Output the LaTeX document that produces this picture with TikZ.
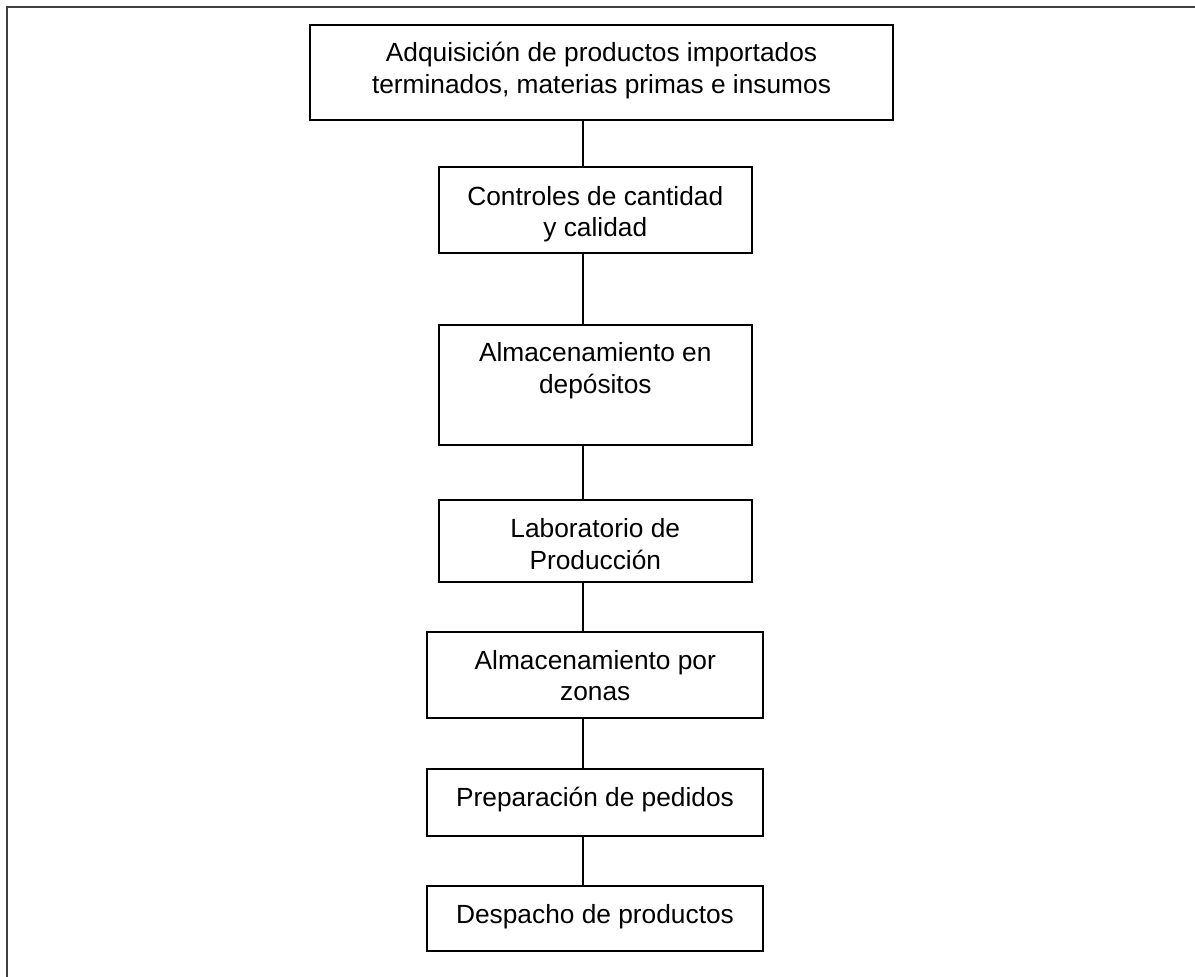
\documentclass[tikz,border=0pt]{standalone}
\usepackage{fontspec}
\setmainfont{Liberation Sans}
\begin{document}
\begin{tikzpicture}[x=1bp,y=-1bp,
  box/.style={draw=black,line width=2bp,inner sep=0pt,rectangle},
  txt/.style={anchor=north,inner sep=0pt,align=center,font=\fontsize{26.3bp}{31.6bp}\selectfont},
  link/.style={draw=black,line width=1.8bp}]
\useasboundingbox (0,0) rectangle (1195,977);
\draw[black!75,line width=1.8bp] (6.7,990) -- (6.7,7.3) -- (1210,7.3);
\coordinate (cx) at (583.3,0);
% boxes
\node[box,minimum width=583bp,minimum height=95bp] (b1) at (601.5,72.5) {};
\node[box,minimum width=312.7bp,minimum height=86.6bp] (b2) at (595.3,210) {};
\node[box,minimum width=312.7bp,minimum height=120bp] (b3) at (595.3,385) {};
\node[box,minimum width=312.7bp,minimum height=81.7bp] (b4) at (595.3,540.8) {};
\node[box,minimum width=336bp,minimum height=86.6bp] (b5) at (595.3,675) {};
\node[box,minimum width=336.6bp,minimum height=66.4bp] (b6) at (595,802.5) {};
\node[box,minimum width=336.6bp,minimum height=65.3bp] (b7) at (595,918.3) {};
% texts
\node[txt] (t1) at (601.5,39.6) {\strut Adquisición de productos importados\\terminados, materias primas e insumos};
\node[txt] (t2) at (595.3,182.9) {\strut Controles de cantidad\\y calidad};
\node[txt] (t3) at (595.3,339.6) {\strut Almacenamiento en\\depósitos};
\node[txt] (t4) at (595.3,515.2) {\strut Laboratorio de\\Producción};
\node[txt] (t5) at (595.3,646.9) {\strut Almacenamiento por\\zonas};
\node[txt] (t6) at (595,783.9) {\strut Preparación de pedidos};
\node[txt] (t7) at (595,901.2) {\strut Despacho de productos};
% connectors
\draw[link] (b1.south -| cx) -- (b2.north -| cx);
\draw[link] (b2.south -| cx) -- (b3.north -| cx);
\draw[link] (b3.south -| cx) -- (b4.north -| cx);
\draw[link] (b4.south -| cx) -- (b5.north -| cx);
\draw[link] (b5.south -| cx) -- (b6.north -| cx);
\draw[link] (b6.south -| cx) -- (b7.north -| cx);
\end{tikzpicture}
\end{document}
